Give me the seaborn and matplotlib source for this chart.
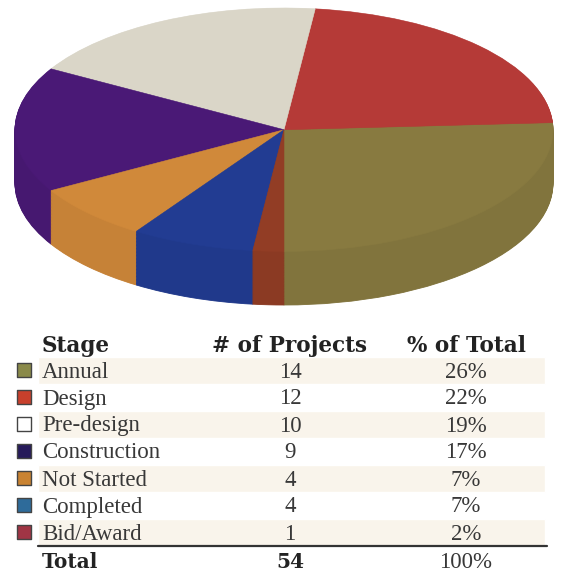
import numpy as np
import matplotlib
matplotlib.use("Agg")
import matplotlib.pyplot as plt
import matplotlib.colors as mcolors
import seaborn as sns

# table / pie data
stages = ["Annual", "Design", "Pre-design", "Construction", "Not Started", "Completed", "Bid/Award"]
projects = [14, 12, 10, 9, 4, 4, 1]
pct_labels = ["26%", "22%", "19%", "17%", "7%", "7%", "2%"]
total_pct = "100%"

pie_colors = ["#887a40", "#b53a37", "#dad6c8", "#4a1976", "#d0893a", "#223c92", "#923d25"]
key_colors = ["#8a8a4a", "#c8402c", "#ffffff", "#261a5a", "#c98332", "#2e6b9a", "#a03545"]

sns.set_theme(style="white")
plt.rcParams['font.family'] = ['Liberation Serif', 'DejaVu Serif']

fig = plt.figure(figsize=(5.66, 5.73), dpi=100)

# ---- 3D-looking pie: stack of slightly darker pies under the top one ----
ax = fig.add_axes([15 / 566, 1 - 305 / 573, 538 / 566, 297 / 573])
depth = 0.44
start = -90
side_colors = [tuple(c * 0.95 for c in mcolors.to_rgb(col)) for col in pie_colors]

for dy in np.linspace(-depth, 0, 70)[:-1]:
    wedges, _ = ax.pie(projects, colors=side_colors, startangle=start, center=(0, dy),
                       wedgeprops=dict(linewidth=0.6))
    for w in wedges:
        w.set_edgecolor(w.get_facecolor())

wedges, _ = ax.pie(projects, colors=pie_colors, startangle=start,
                   wedgeprops=dict(linewidth=0.4))
for w in wedges:
    w.set_edgecolor(w.get_facecolor())

ax.set_aspect('auto')
ax.set_xlim(-1, 1)
ax.set_ylim(-1 - depth, 1)
ax.axis('off')

# ---- table underneath ----
tab = fig.add_axes([0, 0, 1, 1 - 325 / 573])
tab.set_xlim(0, 566)
tab.set_ylim(573, 325)

row_y = [370 + i * 27 for i in range(len(stages))]
total_y = row_y[-1] + 28

# alternating shading
shade_y = [y for i, y in enumerate(row_y) if i % 2 == 0]
tab.barh(shade_y, width=507, left=38, height=27, color="#f9f4eb", zorder=0)

sns.scatterplot(x=[24] * len(stages), y=row_y, hue=stages,
                palette=dict(zip(stages, key_colors)), marker='s', s=95,
                edgecolor="#444444", linewidth=1, legend=False, ax=tab, zorder=3)

col_stage, col_num, col_pct = 42, 290, 466
hdr = dict(fontsize=15.5, fontweight='bold', color="#222222", family=['DejaVu Serif'])
tab.text(col_stage, 352, "Stage", ha='left', va='baseline', **hdr)
tab.text(col_num, 352, "# of Projects", ha='center', va='baseline', **hdr)
tab.text(col_pct, 352, "% of Total", ha='center', va='baseline', **hdr)

body = dict(fontsize=16.5, color="#383838")
for name, n, p, y in zip(stages, projects, pct_labels, row_y):
    tab.text(col_stage, y + 7.5, name, ha='left', va='baseline', **body)
    tab.text(col_num, y + 7.5, str(n), ha='center', va='baseline', **body)
    tab.text(col_pct, y + 7.5, p, ha='center', va='baseline', **body)

tab.plot([38, 547], [546, 546], color="#333333", lw=1.6)

tot = dict(fontsize=14.5, fontweight='bold', color="#222222", family=['DejaVu Serif'])
tab.text(col_stage, total_y + 7.5, "Total", ha='left', va='baseline', **tot)
tab.text(col_num, total_y + 7.5, str(sum(projects)), ha='center', va='baseline', **tot)
tab.text(col_pct, total_y + 7.5, total_pct, ha='center', va='baseline', **body)
tab.axis('off')

fig.savefig("out.png", dpi=100)
